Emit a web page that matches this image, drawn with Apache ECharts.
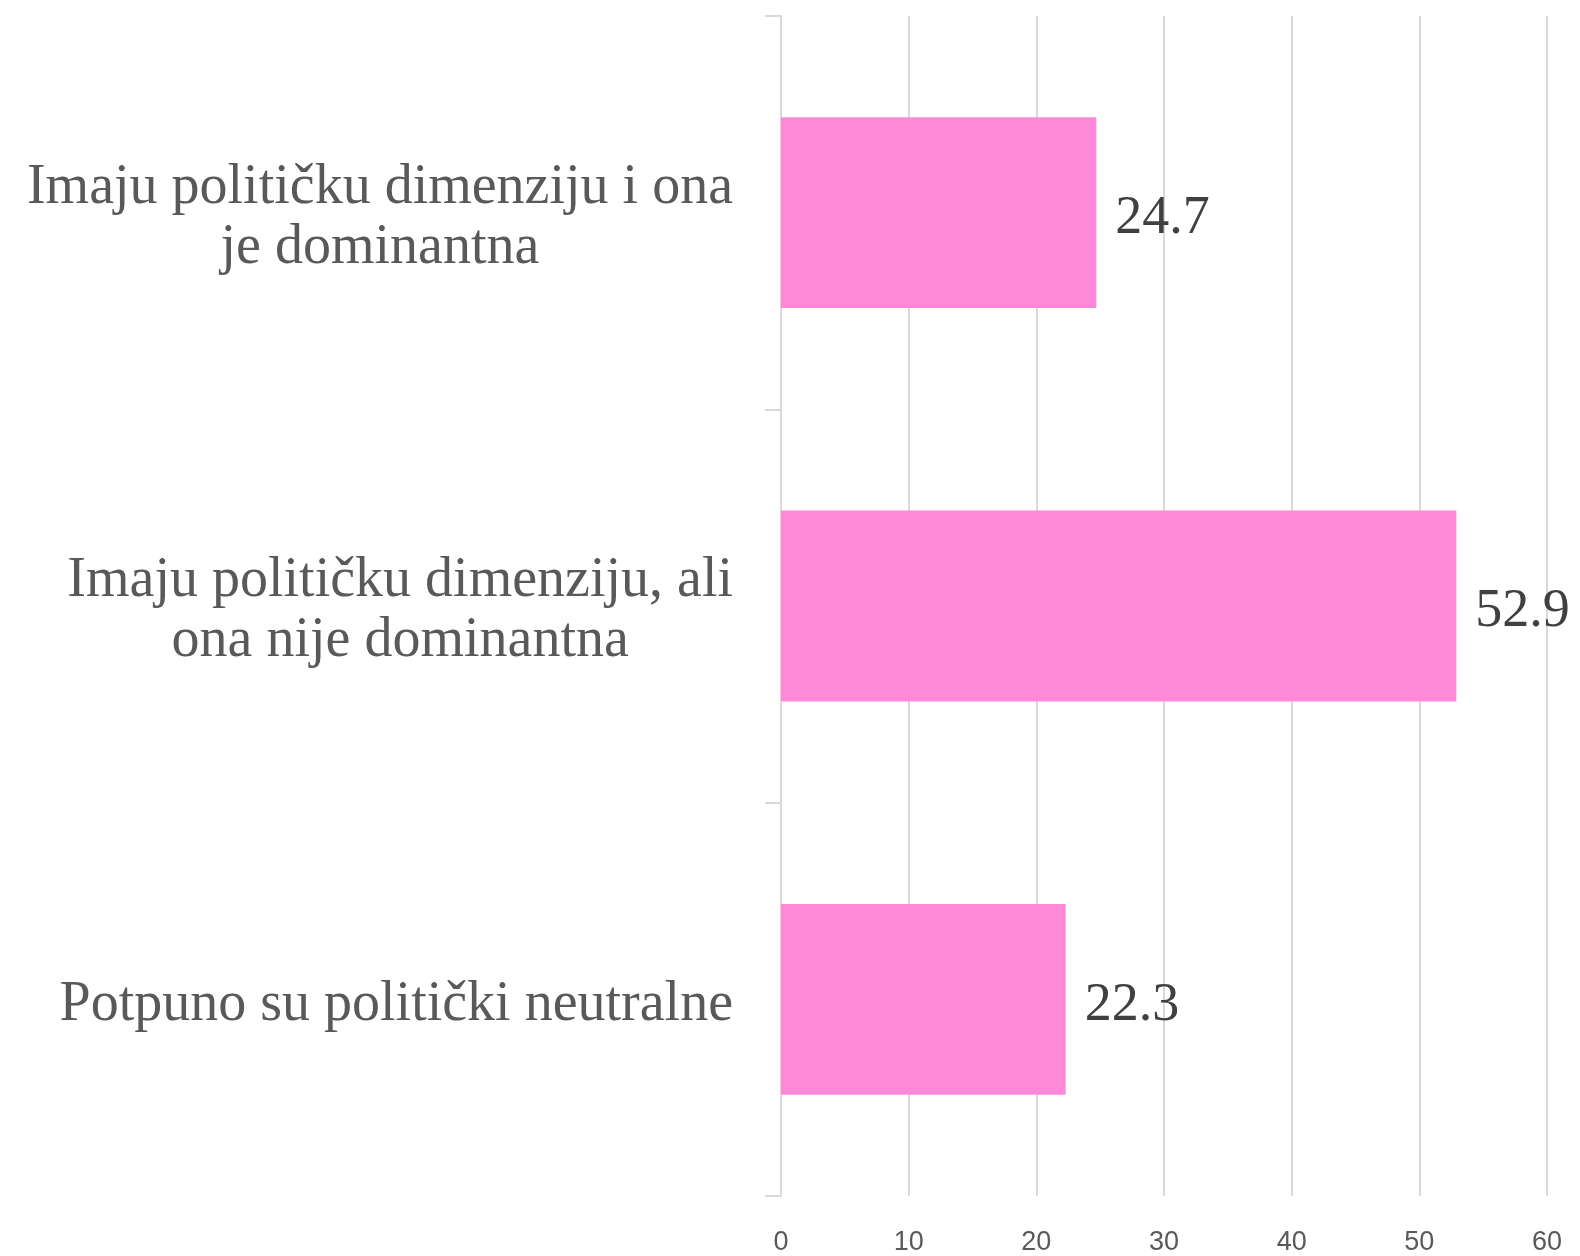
<!DOCTYPE html>
<html>
<head>
<meta charset="utf-8">
<script src="https://cdn.jsdelivr.net/npm/echarts@6/dist/echarts.min.js"></script>
<style>
  html, body { margin: 0; padding: 0; background: #fff; }
  #chart { width: 1580px; height: 1256px; }
</style>
</head>
<body>
<div id="chart"></div>
<script>
// categories top to bottom, line breaks as in the original
const categories = [
  'Imaju političku dimenziju i ona\nje dominantna',
  'Imaju političku dimenziju, ali\nona nije dominantna',
  'Potpuno su politički neutralne',
];
const values = [24.7, 52.9, 22.3];

const chart = echarts.init(document.getElementById('chart'));

chart.setOption({
  animation: false,
  textStyle: { fontFamily: 'Liberation Serif' },
  grid: { left: 781, right: 33, top: 16, bottom: 58, containLabel: false },
  xAxis: {
    type: 'value',
    min: 0,
    max: 60,
    interval: 10,
    axisLine: { show: false },
    axisTick: { show: false },
    splitLine: { lineStyle: { color: '#d9d9d9', width: 2 } },
    axisLabel: {
      margin: 33,
      color: '#595959',
      fontSize: 27,
      fontFamily: 'Liberation Sans Narrow, Liberation Sans',
    },
  },
  yAxis: {
    type: 'category',
    data: categories,
    inverse: true,
    axisLine: { show: true, lineStyle: { color: '#d9d9d9', width: 2 } },
    axisTick: { show: true, inside: false, length: 16, lineStyle: { color: '#d9d9d9', width: 2 } },
    axisLabel: {
      margin: 48,
      align: 'right',
      color: '#595959',
      fontSize: 56,
      lineHeight: 60,
      padding: [11, 0, 0, 0], // nudge down a little, Cambria sits lower
      formatter: (v) => v.split('\n').map((l) => '{c|' + l + '}').join('\n'),
      rich: {
        c: { align: 'center', fontSize: 56, lineHeight: 60, color: '#595959', fontFamily: 'Liberation Serif' },
      },
    },
  },
  series: [{
    type: 'bar',
    data: values,
    barCategoryGap: '51.5%',
    itemStyle: { color: '#ff89d7' },
    label: {
      show: true,
      position: 'right',
      distance: 19,
      offset: [0, 6],
      color: '#404040',
      fontSize: 54,
      fontFamily: 'Liberation Serif',
    },
  }],
});
</script>
</body>
</html>
